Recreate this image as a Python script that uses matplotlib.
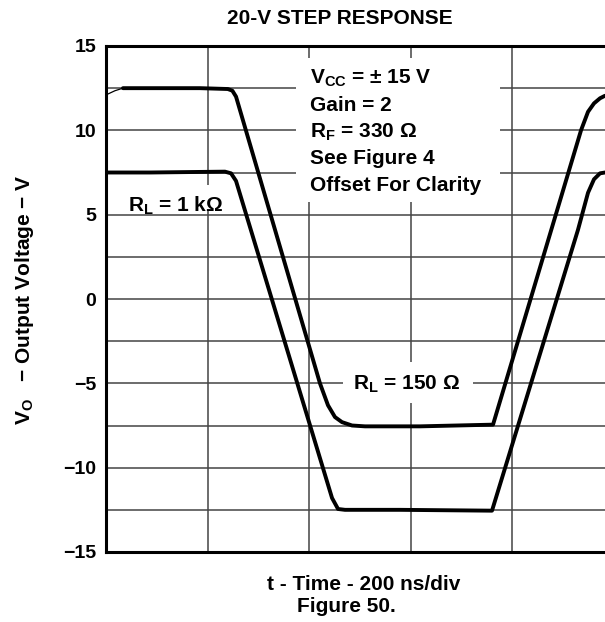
import numpy as np
import matplotlib
matplotlib.use("Agg")
import matplotlib.pyplot as plt
from matplotlib.patches import Rectangle

plt.rcParams['font.family'] = ['Liberation Sans', 'DejaVu Sans']
plt.rcParams['font.weight'] = 'bold'
plt.rcParams['mathtext.default'] = 'regular'

# time in divisions (200 ns/div), voltage in V
t_150 = [0, 0.089, 0.167, 0.926, 1.200, 1.245, 1.281, 2.108,
         2.187, 2.256, 2.325, 2.424, 2.552, 3.094, 3.813, 4.680,
         4.749, 4.808, 4.867, 4.916]
v_150 = [12.1, 12.35, 12.5, 12.5, 12.45, 12.35, 12.0, -5,
         -6.3, -7.0, -7.3, -7.5, -7.55, -7.55, -7.45, 10,
         11.1, 11.6, 11.9, 12.05]

t_1k = [0, 0.433, 1.172, 1.232, 1.281, 2.227,
        2.286, 2.355, 2.897, 3.803, 4.650, 4.749, 4.808, 4.867, 4.916]
v_1k = [7.5, 7.5, 7.55, 7.45, 7.0, -11.8,
        -12.45, -12.5, -12.5, -12.55, 4.1, 6.3, 7.1, 7.45, 7.5]

y_ticks = [-15, -10, -5, 0, 5, 10, 15]
y_labels = ['\u221215', '\u221210', '\u22125', '0', '5', '10', '15']

notes = [r'V$_{CC}$ = $\pm$ 15 V', 'Gain = 2', r'R$_F$ = 330 $\Omega$',
         'See Figure 4', 'Offset For Clarity']


def main():
    fig = plt.figure(figsize=(6.05, 6.22), dpi=100)
    ax = fig.add_axes([106 / 605, 70 / 622, 499 / 605, 506 / 622])

    ax.set_xlim(0, 499 / 101.5)
    ax.set_ylim(-15, 15)

    # grid
    ax.set_xticks([1, 2, 3, 4])
    ax.set_xticklabels([])
    ax.set_yticks(y_ticks)
    ax.set_yticklabels(y_labels, fontsize=14, fontweight='bold')
    ax.set_yticks(np.arange(-12.5, 13, 5), minor=True)
    ax.tick_params(which='both', length=0, pad=7)
    ax.grid(which='both', color='#444444', linewidth=1.1, zorder=1)
    ax.set_axisbelow(True)

    for s in ['left', 'top', 'bottom']:
        ax.spines[s].set_linewidth(2.2)
    ax.spines['right'].set_visible(False)

    # white areas behind labels
    ax.add_patch(Rectangle((1.872, 5.75), 2.01, 8.54, fc='white', ec='none', zorder=2))
    ax.add_patch(Rectangle((0.138, 5.30), 1.005, 1.48, fc='white', ec='none', zorder=2))
    ax.add_patch(Rectangle((2.335, -6.16), 1.281, 2.43, fc='white', ec='none', zorder=2))

    # curves
    ax.plot(t_150[:3], v_150[:3], color='black', linewidth=0.9, zorder=3)
    ax.plot(t_150[2:], v_150[2:], color='black', linewidth=2.8, zorder=3,
            solid_joinstyle='round', solid_capstyle='round')
    ax.plot(t_1k, v_1k, color='black', linewidth=2.8, zorder=3,
            solid_joinstyle='round', solid_capstyle='round')

    for i, s in enumerate(notes):
        ax.text(2.01, 12.75 - i * 1.58, s, fontsize=15, fontweight='bold',
                va='baseline', ha='left', zorder=4)

    ax.text(0.217, 5.16, r'R$_L$ = 1 k$\Omega$', fontsize=15, fontweight='bold',
            va='baseline', zorder=4)
    ax.text(2.433, -5.39, r'R$_L$ = 150 $\Omega$', fontsize=15, fontweight='bold',
            va='baseline', zorder=4)

    fig.text(340 / 605, 1 - 19 / 622, '20-V STEP RESPONSE', fontsize=15,
             fontweight='bold', ha='center', va='center')
    fig.text(364 / 605, 1 - 585 / 622, 't - Time - 200 ns/div', fontsize=15,
             fontweight='bold', ha='center', va='center')
    fig.text(346 / 605, 1 - 607 / 622, 'Figure 50.', fontsize=15,
             fontweight='bold', ha='center', va='center')
    fig.text(25 / 605, 1 - 300 / 622, r'V$_O$   $-$ Output Voltage $-$ V',
             fontsize=15, fontweight='bold', rotation=90, ha='center', va='center')

    fig.savefig('out.png', dpi=100)


main()
